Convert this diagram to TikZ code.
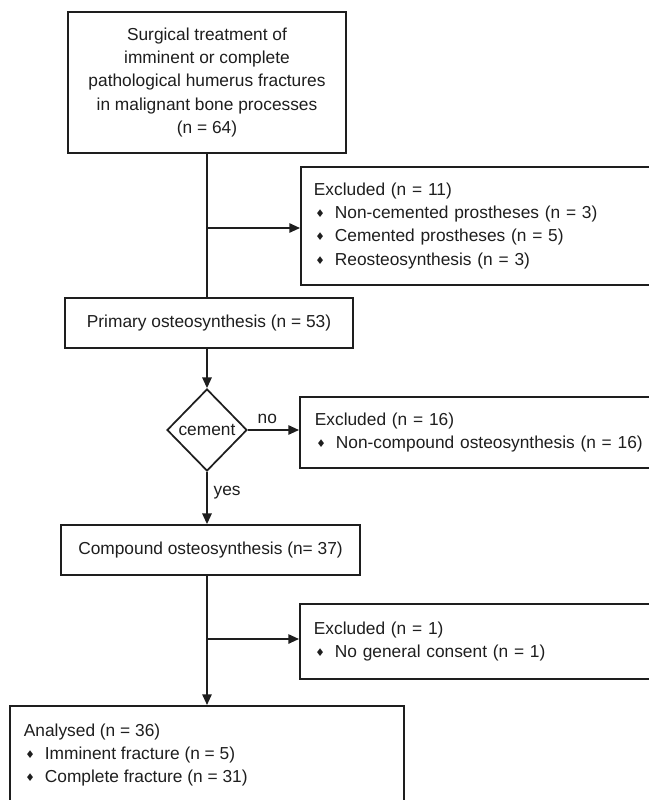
\documentclass[tikz,border=0pt]{standalone}
\usepackage{fontspec}
\setmainfont{Liberation Sans}
\newfontfamily\dejavu{DejaVu Sans}
\usetikzlibrary{shapes.geometric,arrows.meta}
\definecolor{ink}{RGB}{30,30,30}
\newcommand{\bul}{\makebox[15.75pt][l]{\hspace{1.2pt}\raisebox{0.8pt}{\dejavu\fontsize{8}{8}\selectfont ♦}}}
\begin{document}
\begin{tikzpicture}[x=0.75pt,y=-0.75pt,line width=1.3pt,draw=ink,text=ink,
  every node/.style={font=\fontsize{13}{17.4}\selectfont},
  box/.style={draw,rectangle,inner sep=0pt},
  lbox/.style={draw,rectangle,anchor=north west,text width=300pt,align=left,inner ysep=0pt},
  arr/.style={-{Triangle[length=8pt,width=7pt]}}]
\clip (0,0) rectangle (649,800);
\fill[white] (0,0) rectangle (649,800);
\node[box,minimum width=208.5pt,minimum height=105.75pt,align=center] (top) at (207,82.5)
  {Surgical treatment of\\imminent or complete\\pathological humerus fractures\\in malignant bone processes\\(n = 64)};
\node[lbox,minimum height=88.5pt,inner xsep=9.75pt] (ex1) at (300,166)
  {Excluded (n = 11)\\\bul Non-cemented prostheses (n = 3)\\\bul Cemented prostheses (n = 5)\\\bul Reosteosynthesis (n = 3)};
\node[box,minimum width=216pt,minimum height=37.5pt] (prim) at (209,323) {Primary osteosynthesis (n = 53)};
\node[draw,diamond,inner sep=0pt,minimum width=60pt,minimum height=61.5pt] (cem) at (207,430) {cement};
\node[lbox,minimum height=53.25pt,inner xsep=11.25pt] (ex2) at (299,396)
  {Excluded (n = 16)\\\bul Non-compound osteosynthesis (n = 16)};
\node[box,minimum width=224.25pt,minimum height=37.5pt] (comp) at (210.5,550) {Compound osteosynthesis (n= 37)};
\node[lbox,minimum height=56.25pt,inner xsep=10.5pt] (ex3) at (299,603)
  {Excluded (n = 1)\\\bul No general consent (n = 1)};
\node[box,anchor=north west,minimum width=295.5pt,minimum height=90pt] (an) at (9,705) {};
\node[anchor=north west,inner sep=0pt,align=left] (antext) at (23,723)
  {Analysed (n = 36)\\\bul Imminent fracture (n = 5)\\\bul Complete fracture (n = 31)};
\coordinate (b1) at (207,228);
\coordinate (b2) at (207,639);
\draw (top.south) -- (top.south |- prim.north);
\draw[arr] (b1) -- (b1 -| ex1.west);
\draw[arr] (cem.north |- prim.south) -- (cem.north);
\draw[arr] (cem.east) -- node[above=1pt,pos=0.38] (nolab) {no} (cem.east -| ex2.west);
\draw[arr] (cem.south) -- node[right=1pt,pos=0.4] (yeslab) {yes} (cem.south |- comp.north);
\draw[arr] (cem.south |- comp.south) -- (cem.south |- an.north);
\draw[arr] (b2) -- (b2 -| ex3.west);
\end{tikzpicture}
\end{document}
